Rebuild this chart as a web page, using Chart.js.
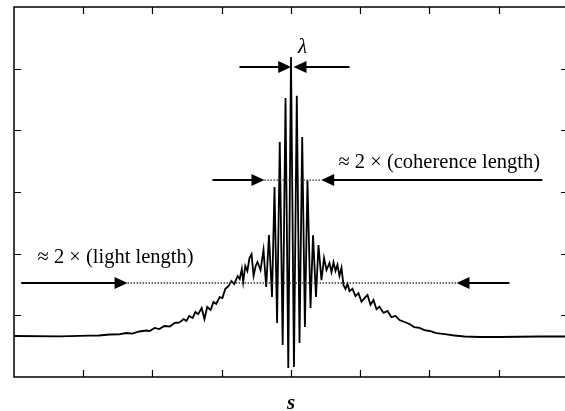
<!DOCTYPE html>
<html>
<head>
<meta charset="utf-8">
<script src="https://cdn.jsdelivr.net/npm/chart.js@4.4.1/dist/chart.umd.min.js"></script>
<style>
  html, body { margin: 0; padding: 0; background: #fff; overflow: hidden; }
  #wrap { width: 565px; height: 411px; }
</style>
</head>
<body>
<div id="wrap"><canvas id="chartI" width="565" height="411"></canvas></div>
<script>
// interferogram (arbitrary units)
const sVals = [
  -40, -33.4, -29.1, -27.7, -26.2, -24.8, -23.8, -22.9, -21.9, -20.9, -20.4, -19.7, -19.0, -18.3, -17.5,
  -16.8, -16.1, -15.5, -15.1, -14.7, -14.2, -13.8, -13.4, -12.9, -12.5, -12.1, -11.6, -11.2, -10.8, -10.3,
  -9.9, -9.5, -9.0, -8.6, -8.2, -7.7, -7.4, -7.1, -6.9, -6.6, -6.3, -6.0, -5.7, -5.4, -5.1,
  -4.84, -4.40, -3.97, -3.58, -3.18, -2.74, -2.38, -2.01, -1.62, -1.20, -0.79, -0.39, 0,
  0.43, 0.84, 1.23, 1.62, 2.01, 2.38, 2.82, 3.18, 3.61, 3.97, 4.40, 4.77, 5.13,
  5.56, 5.85, 6.14, 6.43, 6.71, 7.0, 7.29, 7.58, 7.87, 8.16, 8.45, 8.88, 9.31, 9.75, 10.18,
  10.61, 11.05, 11.48, 11.91, 12.35, 12.78, 13.36, 13.94, 14.5, 15.1, 15.67, 16.39, 17.1, 17.8,
  18.55, 19.28, 20.0, 21.0, 22.2, 23.6, 25.05, 27.2, 30.1, 35.9, 40.2
];
const intensity = [
  6.65, 6.6, 6.7, 6.73, 6.89, 6.9, 7.13, 7.05, 7.38, 7.54, 7.46, 7.95, 7.78, 8.27, 8.19,
  8.76, 8.84, 9.4, 9.08, 9.89, 9.57, 10.54, 10.2, 11.19, 9.4, 11.35, 10.86, 12.16, 11.84, 12.97,
  12.81, 14.27, 14.76, 15.57, 15.08, 16.38, 15.89, 17.51, 15.4, 18.0, 17.19, 19.3, 19.9, 16.4, 18.0,
  18.65, 17.35, 20.59, 14.59, 23.03, 12.97, 30.81, 8.76, 38.1, 5.19, 45.24, 1.46, 51.9,
  1.62, 45.6, 5.51, 38.9, 8.1, 31.9, 11.2, 23.0, 13.0, 21.4, 15.7, 19.3, 17.35,
  18.5, 17.0, 18.6, 17.2, 18.2, 16.4, 17.7, 14.9, 14.3, 15.1, 13.9, 14.3, 13.1, 13.6, 12.2,
  12.8, 13.3, 11.7, 12.5, 11.0, 11.4, 10.4, 10.7, 9.7, 9.9, 9.24, 8.92, 8.6, 8.1,
  7.95, 7.62, 7.46, 7.13, 6.97, 6.73, 6.57, 6.49, 6.49, 6.57, 6.57
];

// tick marks (no labels)
const sTicks = [-30, -20, -10, 0, 10, 20, 30];
const iTicks = [10, 20, 30, 40, 50];

// annotation arrows: level, arrow tips, line ends
const lightLevel = 15.24, lightTips = [-23.6, 23.9], lightEnds = [-38.96, 31.55];
const cohLevel = 31.94, cohTips = [-3.83, 4.36], cohEnds = [-11.34, 36.3];
const lambdaLevel = 50.27, lambdaTips = [0.03, 0.36], lambdaEnds = [-7.44, 8.45];

// labels: text, x, y
const labels = [
  ["\u2248 2 \u00d7 (light length)", -36.6, 18.5],
  ["\u2248 2 \u00d7 (coherence length)", 6.86, 33.9],
];
const lambdaLabel = ["\u03bb", 1.66, 52.5];
const axisLabel = ["s", 0, -5.2];

const points = sVals.map((s, i) => ({x: s, y: intensity[i]}));

function arrowHead(ctx, x, y, dir) {
  ctx.beginPath();
  ctx.moveTo(x, y);
  ctx.lineTo(x - dir * 13, y - 6);
  ctx.lineTo(x - dir * 13, y + 6);
  ctx.closePath();
  ctx.fill();
}

const decor = {
  id: "decor",
  afterDatasetsDraw(chart) {
    const ctx = chart.ctx;
    const xs = chart.scales.x, ys = chart.scales.y;
    const a = chart.chartArea;
    const rightEdge = a.right + 3; // frame's right side sits just past the picture
    ctx.save();
    // frame: top, left, bottom
    ctx.strokeStyle = "#000";
    ctx.lineWidth = 1.5;
    ctx.beginPath();
    ctx.moveTo(rightEdge, a.top); ctx.lineTo(a.left, a.top);
    ctx.lineTo(a.left, a.bottom); ctx.lineTo(rightEdge, a.bottom);
    ctx.stroke();
    ctx.lineWidth = 1.2;
    ctx.beginPath();
    sTicks.forEach(t => {
      const px = Math.round(xs.getPixelForValue(t)) + 0.5;
      ctx.moveTo(px, a.bottom); ctx.lineTo(px, a.bottom - 7);
      ctx.moveTo(px, a.top); ctx.lineTo(px, a.top + 7);
    });
    iTicks.forEach(t => {
      const py = Math.round(ys.getPixelForValue(t)) + 0.5;
      ctx.moveTo(a.left, py); ctx.lineTo(a.left + 7, py);
      ctx.moveTo(rightEdge, py); ctx.lineTo(rightEdge - 7, py);
    });
    ctx.stroke();

    // arrows
    const arrows = [
      [lightLevel, lightTips, lightEnds],
      [cohLevel, cohTips, cohEnds],
      [lambdaLevel, lambdaTips, lambdaEnds],
    ];
    arrows.forEach(([lv, tips, ends]) => {
      const py = ys.getPixelForValue(lv);
      const t0 = xs.getPixelForValue(tips[0]), t1 = xs.getPixelForValue(tips[1]);
      const e0 = xs.getPixelForValue(ends[0]), e1 = xs.getPixelForValue(ends[1]);
      // dotted middle
      if (t1 - t0 > 4) {
        ctx.strokeStyle = "#333";
        ctx.lineWidth = 1.3;
        ctx.setLineDash([1.5, 1.5]);
        ctx.beginPath();
        ctx.moveTo(t0, py); ctx.lineTo(t1, py);
        ctx.stroke();
        ctx.setLineDash([]);
      }
      ctx.strokeStyle = "#000";
      ctx.fillStyle = "#000";
      ctx.lineWidth = 2;
      ctx.beginPath();
      ctx.moveTo(e0, py); ctx.lineTo(t0 - 10, py);
      ctx.moveTo(t1 + 10, py); ctx.lineTo(e1, py);
      ctx.stroke();
      arrowHead(ctx, t0, py, 1);
      arrowHead(ctx, t1, py, -1);
    });

    // texts
    ctx.fillStyle = "#000";
    ctx.textBaseline = "alphabetic";
    ctx.font = "20.5px 'Liberation Serif'";
    ctx.textAlign = "left";
    labels.forEach(([txt, x, y]) => {
      ctx.fillText(txt, xs.getPixelForValue(x), ys.getPixelForValue(y));
    });
    ctx.textAlign = "center";
    ctx.font = "italic 21px 'Liberation Serif'";
    ctx.fillText(lambdaLabel[0], xs.getPixelForValue(lambdaLabel[1]), ys.getPixelForValue(lambdaLabel[2]));
    ctx.font = "italic bold 21px 'Liberation Serif'";
    ctx.fillText(axisLabel[0], xs.getPixelForValue(axisLabel[1]), ys.getPixelForValue(axisLabel[2]));
    ctx.restore();
  }
};

new Chart(document.getElementById("chartI"), {
  type: "line",
  data: {
    datasets: [{
      data: points,
      borderColor: "#000",
      borderWidth: 1.8,
      pointRadius: 0,
      tension: 0,
      fill: false,
    }],
  },
  options: {
    responsive: false,
    animation: false,
    devicePixelRatio: 1,
    layout: {
      padding: {left: 14, top: 7, right: 0, bottom: 34},
    },
    scales: {
      x: {type: "linear", min: -40, max: 39.57, display: false},
      y: {type: "linear", min: 0, max: 60, display: false},
    },
    plugins: {
      legend: {display: false},
      tooltip: {enabled: false},
    },
  },
  plugins: [decor],
});
</script>
</body>
</html>
